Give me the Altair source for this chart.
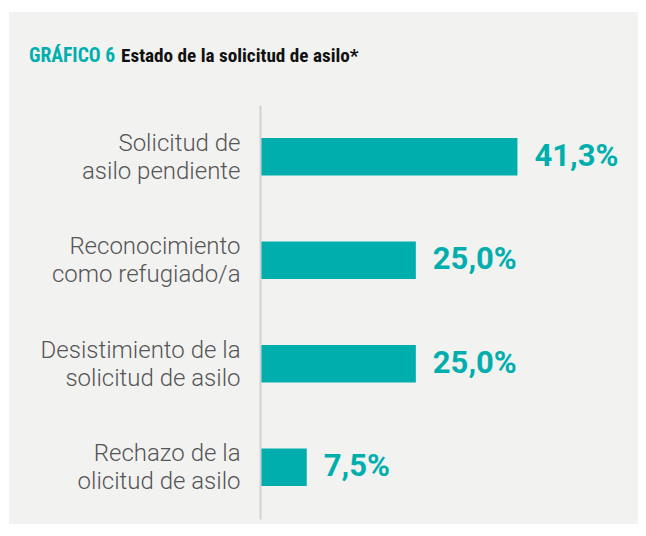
import altair as alt
import pandas as pd

# ---- data ----
categories = [
    "Solicitud de|asilo pendiente",
    "Reconocimiento|como refugiado/a",
    "Desistimiento de la|solicitud de asilo",
    "Rechazo de la\u2009\u2009|olicitud de asilo",
]
values = [41.3, 25.0, 25.0, 7.5]
value_labels = ["41,3%", "25,0%", "25,0%", "7,5%"]

title_lead = ["GRÁFICO 6"]
title_rest = ["Estado de la solicitud de asilo*"]

TEAL = "#00afad"
BG = "#f2f2f1"
TFONT = "Roboto Condensed, Liberation Sans Narrow, DejaVu Sans Condensed, Roboto"

df = pd.DataFrame({"cat": categories, "val": values, "lab": value_labels})

y = alt.Y(
    "cat:N",
    sort=categories,
    title=None,
    scale=alt.Scale(paddingInner=0.64, paddingOuter=0.32),
    axis=alt.Axis(
        labelExpr="split(datum.label, '|')",
        labelFont="Roboto",
        labelFontWeight=300,
        labelFontSize=24,
        labelColor="#555555",
        labelLineHeight=28,
        labelPadding=20,
        labelOffset=-13,
        labelLimit=400,
        ticks=False,
        grid=False,
        domainColor="#d2d2d2",
        domainWidth=2,
        zindex=1,
    ),
)
x = alt.X("val:Q", scale=alt.Scale(domain=[0, 60]), axis=None)

# decorative panel behind the chart
panel = alt.Chart(pd.DataFrame({"p": [0]})).mark_rect(color=BG).encode(
    x=alt.value(-251), x2=alt.value(378), y=alt.value(-93), y2=alt.value(419)
)

bars = alt.Chart(df).mark_bar(color=TEAL).encode(x=x, y=y)

labels = alt.Chart(df).mark_text(
    align="left", baseline="middle", dx=17,
    font="Roboto", fontWeight="bold", fontSize=31, color=TEAL,
).encode(x=x, y=y, text="lab:N")

t1 = alt.Chart(pd.DataFrame({"t": title_lead})).mark_text(
    align="left", baseline="alphabetic",
    font=TFONT, fontWeight="bold", fontSize=19.6, color=TEAL,
).encode(x=alt.value(-231), y=alt.value(-43), text="t:N")

t2 = alt.Chart(pd.DataFrame({"t": title_rest})).mark_text(
    align="left", baseline="alphabetic",
    font=TFONT, fontWeight="bold", fontSize=19.2, color="#111111",
).encode(x=alt.value(-139), y=alt.value(-43), text="t:N")

chart = (
    alt.layer(panel, bars, labels, t1, t2)
    .properties(
        width=374,
        height=414,
        autosize=alt.AutoSizeParams(type="none"),
        padding={"left": 252, "top": 97, "right": 4, "bottom": 5},
        background="white",
    )
    .configure_view(stroke=None)
)

chart.save("out.html", embed_options={"renderer": "svg", "actions": False})
